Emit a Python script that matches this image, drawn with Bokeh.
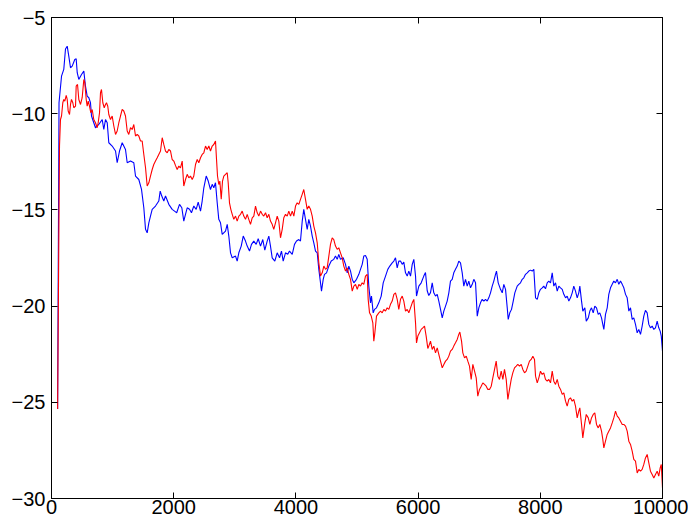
from bokeh.plotting import figure
from bokeh.models import Range1d, FixedTicker, LinearAxis
from bokeh.embed import file_html
from bokeh.resources import INLINE

x_ticks = [0, 2000, 4000, 6000, 8000, 10000]
y_ticks = [-30, -25, -20, -15, -10, -5]
y_tick_labels = ["\u221230", "\u221225", "\u221220", "\u221215", "\u221210", "\u22125"]

blue_x = [100, 123, 164, 201, 229, 257, 283, 311, 339, 381, 404, 421, 447, 491, 529, 556, 584, 611, 638, 655,
          692, 720, 774, 830, 856, 884, 912, 938, 993, 1048, 1075, 1113, 1157, 1183, 1211, 1239, 1293, 1347, 1375, 1429,
          1473, 1511, 1539, 1566, 1593, 1620, 1648, 1702, 1756, 1779, 1805, 1838, 1866, 1920, 1975, 2030, 2049, 2095, 2133, 2165,
          2193, 2221, 2259, 2291, 2329, 2368, 2401, 2439, 2466, 2493, 2532, 2565, 2602, 2630, 2656, 2684, 2712, 2738, 2766, 2794,
          2848, 2876, 2902, 2930, 2958, 3012, 3039, 3066, 3105, 3138, 3175, 3203, 3241, 3273, 3311, 3350, 3383, 3421, 3458, 3491,
          3530, 3557, 3584, 3612, 3655, 3694, 3732, 3764, 3792, 3830, 3867, 3895, 3940, 3977, 4010, 4048, 4075, 4103, 4129, 4157,
          4185, 4211, 4239, 4267, 4293, 4321, 4349, 4375, 4403, 4419, 4447, 4468, 4501, 4539, 4578, 4620, 4648, 4676, 4702, 4730,
          4774, 4812, 4840, 4866, 4894, 4922, 4948, 4992, 5030, 5057, 5085, 5111, 5139, 5167, 5193, 5221, 5237, 5265, 5287, 5319,
          5357, 5396, 5429, 5467, 5504, 5537, 5576, 5603, 5630, 5658, 5684, 5712, 5740, 5766, 5794, 5822, 5848, 5876, 5904, 5930,
          5958, 5974, 6012, 6051, 6093, 6121, 6149, 6175, 6203, 6231, 6257, 6285, 6313, 6339, 6367, 6395, 6421, 6449, 6476, 6503,
          6530, 6558, 6584, 6612, 6640, 6666, 6694, 6722, 6748, 6776, 6804, 6830, 6858, 6886, 6912, 6940, 6968, 6994, 7021, 7049,
          7076, 7103, 7131, 7157, 7185, 7213, 7239, 7267, 7283, 7311, 7349, 7377, 7403, 7431, 7459, 7475, 7501, 7529, 7557, 7583,
          7622, 7648, 7676, 7704, 7730, 7758, 7786, 7812, 7840, 7868, 7894, 7922, 7950, 7976, 8003, 8031, 8057, 8085, 8113, 8139,
          8167, 8195, 8221, 8249, 8277, 8303, 8331, 8359, 8385, 8413, 8440, 8467, 8494, 8522, 8548, 8576, 8604, 8630, 8647, 8675,
          8696, 8729, 8752, 8785, 8811, 8838, 8866, 8892, 8920, 8948, 8974, 9002, 9023, 9040, 9067, 9095, 9121, 9149, 9177, 9203,
          9231, 9259, 9285, 9313, 9341, 9367, 9395, 9422, 9449, 9476, 9504, 9530, 9558, 9586, 9612, 9640, 9667, 9694, 9721, 9749,
          9776, 9803, 9831, 9858, 9885, 9913, 9939, 9962, 9980, 10000]
blue_y = [-25.35, -9.43, -8.05, -7.70, -6.64, -6.49, -7.01, -7.61, -7.53, -7.18, -7.15, -7.87, -8.22, -7.96, -7.79, -8.57, -9.09, -9.17, -9.43, -10.12,
          -10.47, -10.73, -10.56, -10.30, -10.82, -10.30, -10.47, -11.51, -11.68, -11.94, -12.55, -11.94, -11.51, -11.68, -11.86, -12.55, -12.46, -12.55, -13.24, -13.42,
          -13.93, -14.89, -16.01, -16.19, -15.67, -15.32, -14.97, -14.80, -14.54, -14.02, -14.28, -14.54, -14.28, -14.71, -14.97, -15.10, -15.15, -14.71, -14.89, -15.58,
          -15.23, -14.89, -14.97, -15.15, -14.80, -14.97, -14.60, -15.06, -14.54, -13.85, -13.24, -13.50, -13.94, -13.67, -13.85, -13.59, -14.63, -15.49, -15.67, -16.27,
          -16.10, -15.75, -16.36, -17.23, -17.49, -17.40, -17.66, -17.23, -16.88, -16.36, -16.62, -16.88, -17.14, -16.79, -16.62, -16.79, -16.50, -16.88, -16.54, -17.09,
          -16.62, -16.36, -16.88, -17.49, -17.66, -17.23, -17.49, -17.14, -17.66, -17.23, -17.31, -17.14, -17.31, -16.79, -16.62, -16.54, -16.62, -15.60, -14.97, -15.49,
          -16.01, -15.49, -15.84, -16.36, -16.71, -17.14, -17.23, -18.09, -18.79, -19.22, -18.61, -18.35, -18.27, -17.92, -17.66, -17.57, -17.40, -17.57, -17.31, -17.57,
          -17.49, -17.83, -18.27, -17.92, -18.18, -18.61, -18.79, -18.61, -18.35, -18.09, -17.83, -17.40, -17.37, -17.57, -18.96, -19.83, -19.48, -20.35, -20.17, -20.09,
          -19.83, -19.48, -18.79, -18.44, -18.09, -17.92, -17.75, -17.66, -17.49, -18.01, -17.66, -17.66, -17.83, -17.71, -18.27, -18.44, -18.18, -18.44, -17.83, -17.57,
          -18.44, -19.48, -18.96, -18.79, -18.44, -18.25, -19.20, -19.45, -19.30, -18.79, -19.31, -19.48, -19.39, -19.74, -20.17, -20.61, -20.26, -20.00, -19.74, -19.31,
          -18.70, -18.61, -18.27, -18.09, -17.92, -17.66, -17.75, -18.27, -18.96, -18.61, -18.96, -18.70, -19.05, -18.87, -18.61, -18.79, -20.52, -20.09, -19.83, -19.65,
          -19.74, -19.65, -19.74, -19.57, -19.31, -18.96, -18.70, -18.35, -18.18, -18.79, -19.13, -19.31, -18.87, -19.13, -20.09, -20.69, -20.35, -20.17, -19.74, -19.31,
          -18.96, -18.87, -18.79, -18.61, -18.53, -18.35, -18.27, -18.18, -18.13, -18.18, -18.09, -19.57, -19.65, -19.31, -19.13, -19.05, -18.96, -19.10, -18.79, -18.70,
          -18.79, -18.27, -18.96, -18.79, -19.22, -18.96, -19.05, -19.13, -19.39, -19.57, -19.48, -19.74, -19.57, -19.31, -18.96, -19.22, -19.57, -19.31, -18.96, -19.74,
          -20.26, -20.09, -20.78, -20.61, -20.26, -20.09, -20.35, -20.00, -20.09, -20.43, -20.35, -20.61, -20.95, -21.21, -20.43, -20.09, -19.39, -19.05, -18.87, -18.70,
          -18.79, -18.61, -18.87, -18.70, -18.87, -19.05, -19.39, -19.57, -20.26, -20.09, -20.69, -20.61, -20.95, -21.39, -21.21, -21.47, -21.04, -20.52, -20.22, -20.35,
          -20.95, -21.13, -21.04, -21.21, -21.13, -20.78, -21.13, -21.30, -21.56, -22.34]

red_x = [100, 131, 147, 164, 185, 201, 218, 241, 257, 273, 295, 311, 327, 349, 365, 393, 404, 426, 447, 475,
         502, 529, 545, 568, 584, 601, 622, 643, 666, 692, 720, 748, 764, 786, 802, 818, 840, 863, 884, 900,
         921, 938, 966, 993, 1020, 1048, 1075, 1102, 1129, 1157, 1183, 1211, 1239, 1265, 1293, 1321, 1347, 1375, 1403, 1429,
         1457, 1484, 1511, 1539, 1566, 1593, 1620, 1648, 1674, 1702, 1730, 1756, 1784, 1812, 1838, 1866, 1894, 1920, 1948, 1975,
         2002, 2030, 2057, 2084, 2111, 2139, 2165, 2193, 2221, 2247, 2275, 2303, 2329, 2357, 2385, 2411, 2439, 2466, 2493, 2521,
         2548, 2575, 2602, 2630, 2656, 2684, 2701, 2717, 2738, 2755, 2778, 2799, 2820, 2848, 2876, 2892, 2913, 2935, 2958, 2984,
         3012, 3039, 3066, 3094, 3121, 3147, 3175, 3203, 3229, 3257, 3285, 3311, 3339, 3367, 3393, 3421, 3449, 3475, 3503, 3530,
         3557, 3584, 3612, 3638, 3666, 3694, 3720, 3748, 3776, 3802, 3830, 3858, 3884, 3912, 3940, 3966, 3994, 4021, 4048, 4075,
         4103, 4129, 4157, 4185, 4211, 4239, 4267, 4293, 4321, 4349, 4375, 4403, 4431, 4457, 4485, 4512, 4539, 4566, 4594, 4620,
         4648, 4676, 4702, 4730, 4758, 4784, 4812, 4840, 4866, 4894, 4922, 4948, 4976, 5004, 5030, 5057, 5085, 5111, 5139, 5167,
         5183, 5205, 5233, 5259, 5275, 5292, 5319, 5357, 5385, 5413, 5439, 5467, 5494, 5521, 5548, 5576, 5603, 5630, 5658, 5684,
         5712, 5740, 5766, 5794, 5822, 5848, 5876, 5904, 5930, 5958, 5974, 5996, 6023, 6051, 6077, 6105, 6132, 6159, 6175, 6203,
         6231, 6257, 6285, 6313, 6339, 6367, 6395, 6421, 6449, 6476, 6503, 6530, 6558, 6584, 6612, 6640, 6666, 6683, 6711, 6732,
         6760, 6788, 6814, 6841, 6869, 6896, 6924, 6951, 6977, 7005, 7033, 7059, 7087, 7115, 7141, 7169, 7197, 7223, 7251, 7278,
         7305, 7332, 7360, 7387, 7414, 7442, 7469, 7496, 7524, 7550, 7578, 7606, 7632, 7660, 7688, 7714, 7742, 7769, 7796, 7823,
         7851, 7878, 7905, 7922, 7950, 7976, 8003, 8031, 8057, 8085, 8113, 8139, 8167, 8195, 8221, 8249, 8277, 8303, 8331, 8359,
         8385, 8413, 8440, 8467, 8494, 8522, 8548, 8576, 8604, 8630, 8647, 8675, 8696, 8729, 8752, 8785, 8811, 8838, 8866, 8892,
         8920, 8948, 8974, 9002, 9023, 9040, 9067, 9095, 9121, 9149, 9177, 9203, 9231, 9259, 9285, 9313, 9341, 9367, 9395, 9422,
         9449, 9476, 9504, 9530, 9558, 9586, 9612, 9640, 9667, 9694, 9721, 9749, 9776, 9803, 9831, 9858, 9885, 9913, 9939, 9962,
         9980, 10000]
red_y = [-25.35, -11.68, -10.30, -10.12, -9.43, -9.26, -9.35, -9.05, -9.26, -9.86, -10.04, -9.52, -9.26, -9.43, -9.69, -9.61, -8.57, -8.48, -9.26, -9.52,
         -9.17, -8.22, -8.39, -9.26, -9.61, -9.35, -9.61, -9.95, -9.78, -10.30, -10.47, -10.73, -10.47, -9.95, -8.91, -8.74, -9.43, -9.69, -9.52, -9.43,
         -9.61, -10.04, -10.30, -10.12, -10.64, -11.08, -10.90, -10.47, -10.12, -9.78, -9.86, -10.12, -10.90, -11.08, -10.73, -10.82, -10.56, -11.16, -11.08, -11.16,
         -11.42, -11.42, -12.12, -12.81, -13.76, -13.59, -13.24, -12.90, -12.64, -12.46, -12.29, -12.12, -11.94, -11.25, -11.60, -11.94, -12.03, -11.86, -11.94, -12.38,
         -12.46, -12.70, -12.90, -12.72, -12.81, -12.46, -13.76, -13.42, -13.15, -13.33, -13.24, -13.42, -13.24, -12.64, -12.38, -12.55, -12.29, -12.12, -12.03, -11.68,
         -11.86, -11.68, -11.94, -11.68, -11.60, -11.42, -12.38, -13.24, -13.68, -13.50, -14.45, -13.50, -13.24, -13.15, -13.07, -13.59, -14.63, -14.97, -15.23, -15.49,
         -15.32, -15.58, -15.32, -15.23, -15.06, -15.32, -15.49, -15.23, -15.49, -15.75, -15.41, -15.32, -14.80, -15.15, -15.32, -15.06, -15.23, -15.32, -15.15, -15.41,
         -15.23, -15.58, -15.75, -16.01, -15.67, -15.32, -15.58, -16.45, -16.01, -15.41, -15.23, -15.32, -15.06, -15.32, -15.06, -15.32, -14.80, -14.63, -14.71, -14.45,
         -14.19, -13.94, -14.45, -14.97, -14.80, -14.97, -15.32, -15.84, -16.19, -16.71, -17.75, -18.44, -18.27, -17.92, -18.09, -18.01, -17.40, -16.79, -16.45, -16.54,
         -16.88, -17.05, -16.97, -17.23, -17.49, -17.92, -18.18, -18.01, -18.35, -18.61, -19.22, -18.96, -18.87, -19.13, -18.87, -18.96, -18.79, -18.87, -18.44, -18.35,
         -19.65, -20.35, -20.52, -20.87, -21.82, -21.39, -20.52, -20.35, -20.26, -20.35, -20.17, -20.26, -20.09, -20.17, -19.91, -19.74, -19.39, -19.31, -19.65, -20.17,
         -19.65, -19.48, -19.74, -20.26, -20.17, -20.35, -20.09, -19.83, -19.65, -20.87, -21.91, -21.56, -21.39, -21.21, -21.13, -21.04, -21.56, -22.20, -22.08, -21.82,
         -22.25, -22.08, -22.43, -22.17, -22.51, -22.86, -23.21, -23.03, -22.86, -22.77, -22.60, -22.34, -22.25, -22.08, -21.91, -21.73, -21.47, -21.35, -21.82, -22.43,
         -22.69, -22.60, -22.86, -23.12, -23.81, -23.03, -23.38, -23.73, -24.68, -24.33, -24.16, -23.99, -24.07, -24.16, -24.33, -24.33, -24.16, -23.73, -23.29, -22.86,
         -23.64, -23.81, -23.38, -23.81, -23.29, -23.81, -24.85, -24.33, -23.81, -23.47, -23.21, -23.12, -23.03, -23.12, -23.03, -23.29, -23.47, -23.38, -23.12, -22.86,
         -22.77, -22.60, -22.77, -23.64, -23.99, -23.73, -23.38, -23.55, -23.47, -23.81, -23.90, -23.81, -23.99, -23.38, -23.90, -24.07, -23.81, -24.16, -24.33, -24.59,
         -24.51, -24.94, -25.20, -24.85, -24.77, -24.94, -24.85, -25.20, -25.81, -25.46, -25.29, -26.15, -26.85, -26.07, -25.63, -25.81, -26.15, -25.81, -25.63, -25.55,
         -26.15, -26.33, -26.15, -26.50, -26.93, -27.37, -27.02, -26.67, -26.50, -26.33, -26.07, -25.81, -25.46, -25.72, -25.81, -25.98, -26.15, -26.15, -26.24, -26.50,
         -27.02, -27.19, -27.54, -27.97, -28.06, -28.67, -28.49, -28.58, -28.49, -28.23, -27.89, -27.71, -28.15, -28.58, -28.75, -28.93, -28.75, -28.58, -28.84, -28.41,
         -28.23, -29.45]

FONT = "Liberation Sans"

p = figure(width=688, height=522, x_range=Range1d(0, 10000), y_range=Range1d(-30, -5),
           output_backend="svg", toolbar_location=None,
           min_border_left=51, min_border_right=26, min_border_top=17, min_border_bottom=24)
p.xgrid.visible = False
p.ygrid.visible = False
p.outline_line_color = "black"
p.outline_line_width = 1
p.background_fill_color = "white"
p.border_fill_color = "white"

p.line(blue_x, blue_y, line_color="#0000ff", line_width=1.1)
p.line(red_x, red_y, line_color="#ff0000", line_width=1.1)

def style(ax, ticks, labels=True, standoff=4):
    ax.ticker = FixedTicker(ticks=ticks)
    ax.axis_line_color = "black"
    ax.major_tick_line_color = "black"
    ax.major_tick_in = 6
    ax.major_tick_out = 0
    ax.minor_tick_line_color = None
    ax.major_label_text_font = FONT
    ax.major_label_standoff = standoff
    if labels:
        ax.major_label_text_font_size = "20px"
        ax.major_label_text_color = "black"
    else:
        ax.major_label_text_font_size = "1px"
        ax.major_label_text_color = None
        ax.major_label_standoff = 0

style(p.xaxis[0], x_ticks, True, 1)
style(p.yaxis[0], y_ticks, True, 6)
p.yaxis[0].major_label_overrides = {t: s for t, s in zip(y_ticks, y_tick_labels)}

top = LinearAxis()
style(top, x_ticks, False)
p.add_layout(top, "above")
right = LinearAxis()
style(right, y_ticks, False)
p.add_layout(right, "right")

open("out.html", "w").write(file_html(p, INLINE))
